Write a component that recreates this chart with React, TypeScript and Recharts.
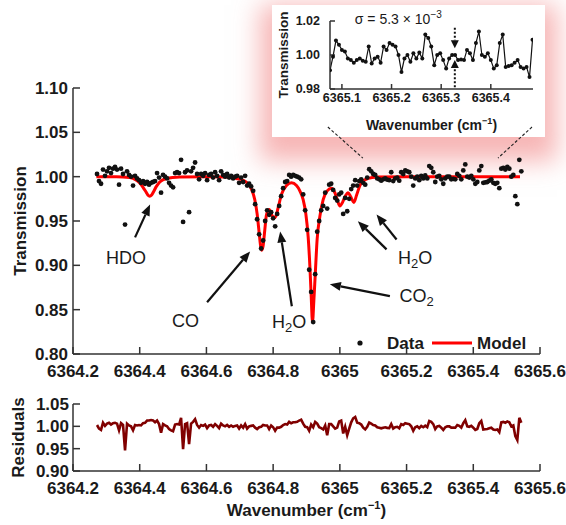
import React from "react";
import {
  ComposedChart,
  LineChart,
  Line,
  Scatter,
  XAxis,
  YAxis,
  ReferenceLine,
  ReferenceDot,
  Legend,
} from "recharts";

const FONT = '"Liberation Sans", Arial, Helvetica, sans-serif';

// measured spectrum (wavenumber in cm-1)
const wavenumber = [
  6364.272, 6364.278, 6364.284, 6364.29, 6364.296, 6364.302, 6364.308, 6364.314, 6364.32, 6364.326,
  6364.332, 6364.338, 6364.344, 6364.35, 6364.356, 6364.362, 6364.368, 6364.374, 6364.38, 6364.386,
  6364.392, 6364.398, 6364.404, 6364.41, 6364.416, 6364.422, 6364.428, 6364.434, 6364.44, 6364.446,
  6364.452, 6364.458, 6364.464, 6364.47, 6364.476, 6364.482, 6364.488, 6364.494, 6364.5, 6364.506,
  6364.512, 6364.518, 6364.524, 6364.53, 6364.536, 6364.542, 6364.548, 6364.554, 6364.56, 6364.566,
  6364.572, 6364.578, 6364.584, 6364.59, 6364.596, 6364.602, 6364.608, 6364.614, 6364.62, 6364.626,
  6364.632, 6364.638, 6364.644, 6364.65, 6364.656, 6364.662, 6364.668, 6364.674, 6364.68, 6364.686,
  6364.692, 6364.698, 6364.704, 6364.71, 6364.716, 6364.722, 6364.728, 6364.734, 6364.74, 6364.746,
  6364.752, 6364.758, 6364.764, 6364.77, 6364.776, 6364.782, 6364.788, 6364.794, 6364.8, 6364.806,
  6364.812, 6364.818, 6364.824, 6364.83, 6364.836, 6364.842, 6364.848, 6364.854, 6364.86, 6364.866,
  6364.872, 6364.878, 6364.884, 6364.89, 6364.896, 6364.902, 6364.908, 6364.914, 6364.92, 6364.926,
  6364.932, 6364.938, 6364.944, 6364.95, 6364.956, 6364.962, 6364.968, 6364.974, 6364.98, 6364.986,
  6364.992, 6364.998, 6365.004, 6365.01, 6365.016, 6365.022, 6365.028, 6365.034, 6365.04, 6365.046,
  6365.052, 6365.058, 6365.064, 6365.07, 6365.076, 6365.082, 6365.088, 6365.094, 6365.1, 6365.106,
  6365.112, 6365.118, 6365.124, 6365.13, 6365.136, 6365.142, 6365.148, 6365.154, 6365.16, 6365.166,
  6365.172, 6365.178, 6365.184, 6365.19, 6365.196, 6365.202, 6365.208, 6365.214, 6365.22, 6365.226,
  6365.232, 6365.238, 6365.244, 6365.25, 6365.256, 6365.262, 6365.268, 6365.274, 6365.28, 6365.286,
  6365.292, 6365.298, 6365.304, 6365.31, 6365.316, 6365.322, 6365.328, 6365.334, 6365.34, 6365.346,
  6365.352, 6365.358, 6365.364, 6365.37, 6365.376, 6365.382, 6365.388, 6365.394, 6365.4, 6365.406,
  6365.412, 6365.418, 6365.424, 6365.43, 6365.436, 6365.442, 6365.448, 6365.454, 6365.46, 6365.466,
  6365.472, 6365.478, 6365.484, 6365.49, 6365.496, 6365.502, 6365.508, 6365.514, 6365.52, 6365.526,
  6365.532, 6365.538, 6365.544,
];

const transmission = [
  1.003, 0.995, 0.992, 1.008, 1.001, 1.006, 1.01, 1.004, 1.009, 1.011,
  1.008, 0.991, 1.009, 1.003, 0.946, 1.006, 1.002, 1.0, 0.99, 1.001,
  0.998, 0.996, 0.993, 0.995, 0.992, 0.994, 0.991, 0.993, 0.994, 0.995,
  1.004, 0.999, 0.982, 1.002, 1.0, 0.998, 0.993, 0.99, 0.988, 1.004,
  1.005, 1.004, 1.019, 0.949, 1.005, 1.007, 0.96, 1.006, 1.01, 1.016,
  1.003, 0.997, 1.003, 1.001, 1.004, 0.996, 1.002, 1.003, 0.999, 1.005,
  1.001, 0.996, 1.006, 1.002, 1.0, 1.003, 0.999, 1.001, 0.998, 1.0,
  1.001, 0.993, 0.999, 0.994, 1.001, 0.99, 0.992, 0.989, 0.984, 0.969,
  0.952, 0.935, 0.919, 0.928, 0.95, 0.962, 0.957, 0.96, 0.953, 0.944,
  0.958, 0.967, 0.978, 0.987, 0.994, 0.995, 1.002, 1.0, 1.002, 1.001,
  1.0, 0.999, 0.997, 0.98, 0.962, 0.94, 0.895, 0.87, 0.836, 0.89,
  0.938, 0.95, 0.962, 0.967, 0.982, 0.964, 0.991, 0.992, 0.985, 0.976,
  0.973, 0.98, 0.982, 0.958, 0.976, 0.961, 0.975, 0.986, 0.99, 0.996,
  0.99, 0.995, 0.997, 0.993, 0.991, 0.999, 1.0085, 1.006, 1.003, 1.002,
  0.998, 0.997, 0.9955, 0.997, 0.998, 0.9966, 0.996, 1.005, 0.995, 0.998,
  0.999, 0.9955, 1.005, 1.003, 1.007, 1.006, 1.005, 1.0, 0.99, 0.998,
  1.0, 0.996, 1.001, 0.998, 1.0014, 0.998, 1.012, 1.01, 1.005, 0.994,
  1.0, 1.001, 0.997, 0.992, 0.998, 1.0, 1.0, 0.997, 0.9974, 0.997,
  1.003, 1.001, 0.997, 1.007, 1.0138, 1.0, 0.999, 1.001, 0.997, 0.992,
  0.994, 1.007, 1.012, 0.993, 0.9935, 0.994, 0.9955, 0.997, 0.993, 0.992,
  0.993, 0.987, 1.009, 1.01, 1.008, 1.011, 1.009, 1.0, 1.002, 0.978,
  0.969, 1.019, 1.006,
];

const residual = [
  1.003, 0.995, 0.992, 1.008, 1.001, 1.006, 1.008, 1.004, 1.007, 1.008,
  1.006, 0.991, 1.007, 1.003, 0.946, 1.006, 1.002, 1.0, 0.991, 1.003,
  1.002, 1.003, 1.002, 1.007, 1.008, 1.013, 1.013, 1.014, 1.013, 1.009,
  1.013, 1.005, 0.986, 1.005, 1.002, 1.0, 0.994, 0.991, 0.989, 1.004,
  1.005, 1.004, 1.019, 0.949, 1.005, 1.007, 0.96, 1.006, 1.01, 1.016,
  1.003, 0.997, 1.003, 1.001, 1.004, 0.996, 1.002, 1.003, 0.999, 1.005,
  1.001, 0.996, 1.006, 1.002, 1.0, 1.003, 0.999, 1.002, 0.999, 1.001,
  1.002, 0.995, 1.002, 0.997, 1.005, 0.995, 1.0, 1.001, 1.002, 0.997,
  0.994, 0.998, 0.999, 1.003, 1.002, 1.002, 0.994, 1.002, 0.998, 0.99,
  0.997, 0.997, 0.999, 1.003, 1.005, 1.004, 1.01, 1.007, 1.009, 1.009,
  1.01, 1.013, 1.015, 1.006, 0.999, 0.998, 0.99, 1.004, 0.998, 1.01,
  1.006, 0.998, 0.996, 0.993, 1.002, 0.98, 1.005, 1.005, 1.0, 0.995,
  0.997, 1.011, 1.013, 0.984, 0.999, 0.98, 0.995, 1.009, 1.018, 1.021,
  1.008, 1.007, 1.004, 0.997, 0.993, 0.999, 1.0085, 1.006, 1.003, 1.002,
  0.998, 0.997, 0.9955, 0.997, 0.998, 0.9966, 0.996, 1.005, 0.995, 0.998,
  0.999, 0.9955, 1.005, 1.003, 1.007, 1.006, 1.005, 1.0, 0.99, 0.998,
  1.0, 0.996, 1.001, 0.998, 1.0014, 0.998, 1.012, 1.01, 1.005, 0.994,
  1.0, 1.001, 0.997, 0.992, 0.998, 1.0, 1.0, 0.997, 0.9974, 0.997,
  1.003, 1.001, 0.997, 1.007, 1.0138, 1.0, 0.999, 1.001, 0.997, 0.992,
  0.994, 1.007, 1.012, 0.993, 0.9935, 0.994, 0.9955, 0.997, 0.993, 0.992,
  0.993, 0.987, 1.009, 1.01, 1.008, 1.011, 1.009, 1.0, 1.002, 0.978,
  0.969, 1.019, 1.008,
];

// fitted model
const modelWavenumber = [
  6364.27, 6364.33, 6364.37, 6364.39, 6364.4, 6364.41, 6364.42, 6364.425, 6364.43, 6364.435,
  6364.44, 6364.45, 6364.46, 6364.48, 6364.52, 6364.6, 6364.66, 6364.69, 6364.71, 6364.725,
  6364.735, 6364.745, 6364.752, 6364.758, 6364.762, 6364.766, 6364.77, 6364.775, 6364.78, 6364.788,
  6364.797, 6364.806, 6364.815, 6364.825, 6364.84, 6364.855, 6364.87, 6364.88, 6364.89, 6364.898,
  6364.905, 6364.91, 6364.914, 6364.918, 6364.922, 6364.926, 6364.932, 6364.94, 6364.95, 6364.962,
  6364.975, 6364.985, 6364.993, 6365.0, 6365.008, 6365.016, 6365.025, 6365.033, 6365.042, 6365.05,
  6365.06, 6365.07, 6365.085, 6365.11, 6365.2, 6365.35, 6365.54,
];
const modelTransmission = [
  1.0, 1.0, 0.999, 0.996, 0.993, 0.988, 0.982, 0.979, 0.978, 0.979,
  0.982, 0.989, 0.994, 0.998, 0.9995, 1.0, 0.9995, 0.998, 0.996, 0.992,
  0.986, 0.974, 0.958, 0.937, 0.923, 0.917, 0.922, 0.94, 0.957, 0.963,
  0.956, 0.954, 0.965, 0.98, 0.99, 0.993, 0.99, 0.984, 0.974, 0.958,
  0.932, 0.9, 0.866, 0.836, 0.86, 0.888, 0.93, 0.955, 0.974, 0.984,
  0.987, 0.982, 0.973, 0.967, 0.971, 0.978, 0.982, 0.977, 0.971, 0.979,
  0.99, 0.995, 0.998, 0.9995, 1.0, 1.0, 1.0,
];

const xTicks = [6364.2, 6364.4, 6364.6, 6364.8, 6365, 6365.2, 6365.4, 6365.6];
const xTickLabels = ["6364.2", "6364.4", "6364.6", "6364.8", "6365", "6365.2", "6365.4", "6365.6"];
const yTicks = [0.8, 0.85, 0.9, 0.95, 1.0, 1.05, 1.1];
const residTicks = [0.9, 0.95, 1.0, 1.05];
const insetXTicks = [6365.1, 6365.2, 6365.3, 6365.4];
const insetYTicks = [0.98, 1.0, 1.02];
const insetRange = [6365.076, 6365.485];

// annotations
const speciesLabels = [
  { text: "HDO", x: 6364.359, y: 0.9084 },
  { text: "CO", x: 6364.537, y: 0.8376 },
  { text: "H2O", x: 6364.848, y: 0.836 },
  { text: "CO2", x: 6365.23, y: 0.865 },
  { text: "H2O", x: 6365.226, y: 0.9084 },
];
const arrows = [
  { from: [6364.386, 0.9315], to: [6364.431, 0.9685] },
  { from: [6364.602, 0.8584], to: [6364.731, 0.9157] },
  { from: [6364.856, 0.8539], to: [6364.821, 0.9382] },
  { from: [6365.15, 0.8652], to: [6364.97, 0.8787] },
  { from: [6365.14, 0.918], to: [6365.054, 0.9498] },
  { from: [6365.17, 0.9292], to: [6365.11, 0.9573] },
];
const zoomGuides = [
  { from: [6364.964, 1.056], to: [6365.069, 1.021] },
  { from: [6365.576, 1.056], to: [6365.474, 1.021] },
];
const sigmaMarkers = [
  { x: 6365.3275, from: 1.016, to: 1.004 },
  { x: 6365.3275, from: 0.981, to: 0.997 },
];

const dataPts = wavenumber.map((x, i) => ({ x, y: transmission[i] }));
const residPts = wavenumber.map((x, i) => ({ x, r: residual[i] }));
const modelPts = modelWavenumber.map((x, i) => ({ x, y: modelTransmission[i] }));
const insetPts = dataPts.filter((p) => p.x >= insetRange[0] - 1e-9 && p.x <= insetRange[1]);

const tickStyle = { fill: "#1a1a1a", fontSize: 17, fontWeight: 700, fontFamily: FONT };
const smallTick = { fill: "#1a1a1a", fontSize: 12.5, fontWeight: 700, fontFamily: FONT };
const axisLineStyle = { stroke: "#333", strokeWidth: 1.5 };

const fmtX = (v: number) => {
  const k = xTicks.indexOf(v);
  return k >= 0 ? xTickLabels[k] : String(v);
};

const sideTitle = (text: string, x: number, size: number) => (props: any) => {
  const vb = props.viewBox || { y: 0, height: 0 };
  const cy = vb.y + vb.height / 2;
  return (
    <text
      x={x}
      y={cy}
      transform={`rotate(-90, ${x}, ${cy})`}
      textAnchor="middle"
      dominantBaseline="central"
      style={{ fontFamily: FONT, fontWeight: 700, fontSize: size, fill: "#1a1a1a" }}
    >
      {text}
    </text>
  );
};

const wnTitle = (dy: number, size: number) => (props: any) => {
  const vb = props.viewBox || { x: 0, y: 0, width: 0 };
  const cx = vb.x + vb.width / 2;
  return (
    <text
      x={cx}
      y={vb.y + dy}
      textAnchor="middle"
      style={{ fontFamily: FONT, fontWeight: 700, fontSize: size, fill: "#1a1a1a" }}
    >
      Wavenumber (cm
      <tspan dy={-size * 0.4} fontSize={size * 0.65}>
        −1
      </tspan>
      <tspan dy={size * 0.4}>)</tspan>
    </text>
  );
};

const Arrow = (p: any) => {
  const { x1, y1, x2, y2 } = p;
  const a = Math.atan2(y2 - y1, x2 - x1);
  const L = 11;
  const W = 4.5;
  const bx = x2 - L * Math.cos(a);
  const by = y2 - L * Math.sin(a);
  const pts = `${x2},${y2} ${bx - W * Math.sin(a)},${by + W * Math.cos(a)} ${bx + W * Math.sin(a)},${by - W * Math.cos(a)}`;
  return (
    <g>
      <line x1={x1} y1={y1} x2={bx} y2={by} stroke="#111" strokeWidth={2.2} />
      <polygon points={pts} fill="#111" />
    </g>
  );
};

const DottedArrow = (p: any) => {
  const { x1, y1, x2, y2 } = p;
  const dir = Math.sign(y2 - y1);
  const by = y2 - dir * 8;
  return (
    <g>
      <line x1={x1} y1={y1} x2={x2} y2={by} stroke="#111" strokeWidth={2} strokeDasharray="2 2" />
      <polygon points={`${x2},${y2} ${x2 - 4},${by} ${x2 + 4},${by}`} fill="#111" />
    </g>
  );
};

const SpeciesText = ({ cx, cy, text }: { cx: number; cy: number; text: string }) => {
  const parts = text.split(/(\d)/).filter(Boolean);
  return (
    <text
      x={cx}
      y={cy}
      textAnchor="middle"
      dominantBaseline="central"
      style={{ fontFamily: FONT, fontSize: 18, fill: "#1a1a1a" }}
    >
      {parts.map((part, k) =>
        /\d/.test(part) ? (
          <tspan key={k} fontSize={13} dy={5}>
            {part}
          </tspan>
        ) : (
          <tspan key={k} dy={k > 0 ? -5 : 0}>
            {part}
          </tspan>
        )
      )}
    </text>
  );
};

const SigmaText = (p: any) => (
  <text x={p.cx} y={p.cy} style={{ fontFamily: FONT, fontSize: 14, fill: "#1a1a1a" }}>
    σ = 5.3 × 10
    <tspan dy={-6} fontSize={10}>
      −3
    </tspan>
  </text>
);

const legendFont = { fontFamily: FONT, fontWeight: 700, fontSize: 17, fill: "#1a1a1a" };
const LegendBox = () => (
  <svg width={200} height={22} style={{ display: "block" }}>
    <circle cx={10} cy={11} r={2.6} fill="#111" />
    <text x={37} y={11} dominantBaseline="central" style={legendFont}>
      Data
    </text>
    <line x1={82} y1={11} x2={122} y2={11} stroke="#ff0000" strokeWidth={3} />
    <text x={127} y={11} dominantBaseline="central" style={legendFont}>
      Model
    </text>
  </svg>
);

export default function App() {
  return (
    <div
      style={{
        position: "absolute",
        left: 0,
        top: 0,
        width: 566,
        height: 525,
        background: "#fff",
        overflow: "hidden",
      }}
    >
      {/* inset */}
      <div
        style={{
          position: "absolute",
          left: 272,
          top: 5,
          width: 273,
          height: 132,
          background: "#fff",
          boxShadow: "0 12px 24px 12px rgba(240, 110, 110, 0.5)",
          zIndex: 1,
        }}
      >
        <LineChart width={273} height={132} data={insetPts} margin={{ top: 16, right: 12, bottom: 0, left: 0 }}>
          <XAxis
            type="number"
            dataKey="x"
            domain={insetRange}
            allowDataOverflow
            ticks={insetXTicks}
            interval={0}
            tickFormatter={(v: number) => v.toFixed(1)}
            height={48}
            tickSize={-5}
            tickMargin={9}
            tick={smallTick}
            axisLine={axisLineStyle}
            tickLine={axisLineStyle}
            label={{ content: wnTitle(41, 14) }}
          />
          <YAxis
            type="number"
            domain={[0.98, 1.02]}
            allowDataOverflow
            ticks={insetYTicks}
            interval={0}
            tickFormatter={(v: number) => v.toFixed(2)}
            width={58}
            tickSize={-5}
            tickMargin={15}
            tick={smallTick}
            axisLine={axisLineStyle}
            tickLine={axisLineStyle}
            label={{ content: sideTitle("Transmission", 11, 13.5) }}
          />
          <Line
            dataKey="y"
            type="linear"
            stroke="#111"
            strokeWidth={1.2}
            dot={{ r: 2, fill: "#111", stroke: "none" }}
            isAnimationActive={false}
          />
          {sigmaMarkers.map((m, k) => (
            <ReferenceLine
              key={k}
              segment={[
                { x: m.x, y: m.from },
                { x: m.x, y: m.to },
              ]}
              shape={DottedArrow}
            />
          ))}
          <ReferenceDot x={6365.126} y={1.0185} shape={SigmaText} />
        </LineChart>
      </div>

      {/* main spectrum */}
      <div style={{ position: "absolute", left: 0, top: 0, zIndex: 2 }}>
        <ComposedChart width={566} height={400} margin={{ top: 88, right: 26, bottom: 16, left: 0 }}>
          <XAxis
            type="number"
            dataKey="x"
            domain={[6364.2, 6365.6]}
            allowDataOverflow
            ticks={xTicks}
            interval={0}
            tickFormatter={fmtX}
            height={30}
            tickSize={-7}
            tickMargin={18}
            tick={tickStyle}
            axisLine={axisLineStyle}
            tickLine={axisLineStyle}
          />
          <YAxis
            type="number"
            dataKey="y"
            domain={[0.8, 1.1]}
            allowDataOverflow
            ticks={yTicks}
            interval={0}
            tickFormatter={(v: number) => v.toFixed(2)}
            width={73}
            tickSize={-7}
            tickMargin={12}
            tick={tickStyle}
            axisLine={axisLineStyle}
            tickLine={axisLineStyle}
            label={{ content: sideTitle("Transmission", 20, 17) }}
          />
          <Scatter
            name="Data"
            data={dataPts}
            dataKey="y"
            shape={(p: any) => <circle cx={p.cx} cy={p.cy} r={2.4} fill="#111" />}
            isAnimationActive={false}
          />
          <Line
            name="Model"
            data={modelPts}
            dataKey="y"
            type="monotone"
            stroke="#ff0000"
            strokeWidth={3}
            dot={false}
            isAnimationActive={false}
          />
          {arrows.map((a, k) => (
            <ReferenceLine
              key={`a${k}`}
              segment={[
                { x: a.from[0], y: a.from[1] },
                { x: a.to[0], y: a.to[1] },
              ]}
              shape={Arrow}
            />
          ))}
          {zoomGuides.map((g, k) => (
            <ReferenceLine
              key={`g${k}`}
              segment={[
                { x: g.from[0], y: g.from[1] },
                { x: g.to[0], y: g.to[1] },
              ]}
              stroke="#222"
              strokeWidth={1.1}
              strokeDasharray="3 2"
            />
          ))}
          {speciesLabels.map((s, k) => (
            <ReferenceDot
              key={`s${k}`}
              x={s.x}
              y={s.y}
              shape={(p: any) => <SpeciesText cx={p.cx} cy={p.cy} text={s.text} />}
            />
          ))}
          <Legend
            layout="vertical"
            align="center"
            verticalAlign="middle"
            content={LegendBox}
            wrapperStyle={{ position: "absolute", left: 350, top: 332, width: 200 }}
          />
        </ComposedChart>
      </div>

      {/* residuals */}
      <div style={{ position: "absolute", left: 0, top: 380, zIndex: 3 }}>
        <LineChart width={566} height={145} data={residPts} margin={{ top: 24, right: 26, bottom: 0, left: 0 }}>
          <XAxis
            type="number"
            dataKey="x"
            domain={[6364.2, 6365.6]}
            allowDataOverflow
            ticks={xTicks}
            interval={0}
            tickFormatter={fmtX}
            height={54}
            tickSize={-7}
            tickMargin={18}
            tick={tickStyle}
            axisLine={axisLineStyle}
            tickLine={axisLineStyle}
            label={{ content: wnTitle(45, 17) }}
          />
          <YAxis
            type="number"
            domain={[0.9, 1.05]}
            allowDataOverflow
            ticks={residTicks}
            interval={0}
            tickFormatter={(v: number) => v.toFixed(2)}
            width={73}
            tickSize={-7}
            tickMargin={11}
            tick={tickStyle}
            axisLine={axisLineStyle}
            tickLine={axisLineStyle}
            label={{ content: sideTitle("Residuals", 18, 17) }}
          />
          <Line
            dataKey="r"
            type="linear"
            stroke="#800000"
            strokeWidth={2.6}
            dot={false}
            isAnimationActive={false}
          />
        </LineChart>
      </div>
    </div>
  );
}
